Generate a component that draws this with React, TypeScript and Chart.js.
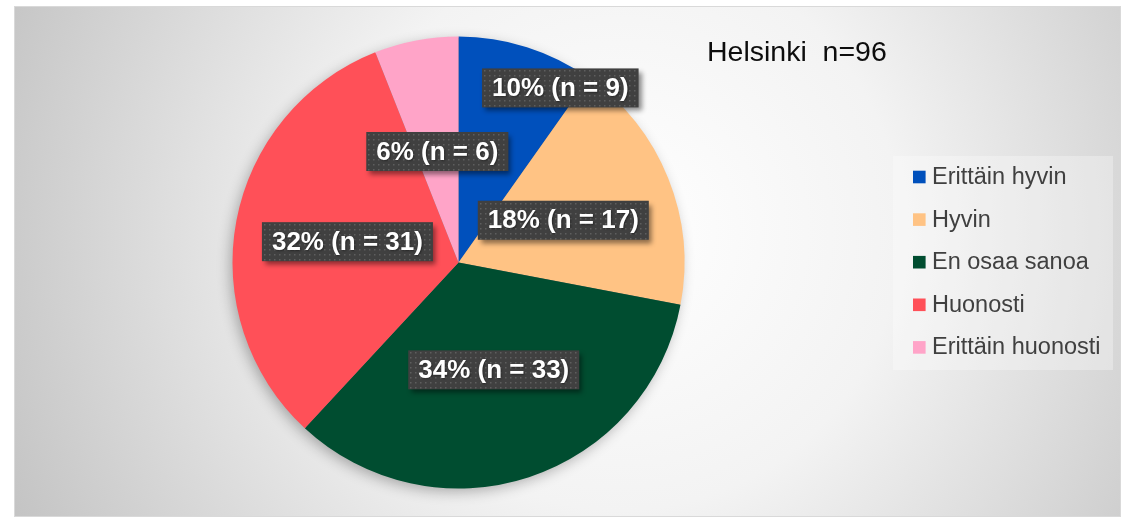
import React, { useEffect, useRef } from "react";
import { Chart, registerables } from "chart.js";

Chart.register(...registerables);

const categories = ["Erittäin hyvin", "Hyvin", "En osaa sanoa", "Huonosti", "Erittäin huonosti"];
// slice shares (%)
const sliceShares = [9.8, 18.2, 33.9, 32.1, 6.0];
const counts = [9, 17, 33, 31, 6];
const percents = [10, 18, 34, 32, 6];
const sliceColors = ["#0050BC", "#FFC384", "#004D30", "#FF5058", "#FFA4C8"];
const titleText = "Helsinki  n=96";
// extra label shift (in units of the pie radius) after placing at half radius on the slice bisector
const labelShift = [
  [0.299, -0.296],
  [0, 0],
  [0, 0],
  [0, 0],
  [0, 0],
];

const FONT = '"Liberation Sans", Arial, sans-serif';

const backgroundPlugin = {
  id: "bgPlugin",
  beforeDraw(chart: any) {
    const { ctx, width, height } = chart;
    ctx.save();
    ctx.fillStyle = "#ffffff";
    ctx.fillRect(0, 0, width, height);
    const fx = 14, fy = 6, fw = 1107, fh = 511;
    const g = ctx.createRadialGradient(620, 230, 0, 620, 230, 700);
    g.addColorStop(0, "#ffffff");
    g.addColorStop(0.4, "#f3f3f3");
    g.addColorStop(1, "#c0c0c0");
    ctx.fillStyle = g;
    ctx.fillRect(fx, fy, fw, fh);
    ctx.strokeStyle = "#d9d9d9";
    ctx.lineWidth = 1;
    ctx.strokeRect(fx + 0.5, fy + 0.5, fw - 1, fh - 1);
    // legend box
    ctx.fillStyle = "rgba(255,255,255,0.3)";
    ctx.fillRect(893, 156, 220, 214);
    ctx.restore();
  },
  beforeDatasetsDraw(chart: any) {
    const meta = chart.getDatasetMeta(0);
    const arc = meta.data[0];
    if (!arc) return;
    const { ctx } = chart;
    ctx.save();
    ctx.shadowColor = "rgba(0,0,0,0.3)";
    ctx.shadowBlur = 14;
    ctx.shadowOffsetX = -3;
    ctx.shadowOffsetY = 4;
    ctx.fillStyle = "#777";
    ctx.beginPath();
    ctx.arc(arc.x, arc.y, arc.outerRadius - 1, 0, Math.PI * 2);
    ctx.fill();
    ctx.restore();
  },
  afterDatasetsDraw(chart: any) {
    const meta = chart.getDatasetMeta(0);
    const { ctx } = chart;
    ctx.save();
    ctx.font = `bold 26px ${FONT}`;
    meta.data.forEach((arc: any, i: number) => {
      const mid = (arc.startAngle + arc.endAngle) / 2;
      const R = arc.outerRadius;
      const x = arc.x + Math.cos(mid) * R * 0.5 + labelShift[i][0] * R;
      const y = arc.y + Math.sin(mid) * R * 0.5 + labelShift[i][1] * R;
      const text = `${percents[i]}% (n = ${counts[i]})`;
      const tw = ctx.measureText(text).width;
      const w = tw + 20;
      const h = 39;
      const bx = x - w / 2;
      const by = y - h / 2;
      ctx.save();
      ctx.shadowColor = "rgba(0,0,0,0.45)";
      ctx.shadowBlur = 5;
      ctx.shadowOffsetX = 3;
      ctx.shadowOffsetY = 4;
      ctx.fillStyle = "#404040";
      ctx.fillRect(bx, by, w, h);
      ctx.restore();
      ctx.fillStyle = "rgba(255,255,255,0.16)";
      for (let px = bx + 2; px < bx + w - 1; px += 5) {
        for (let py = by + 2; py < by + h - 1; py += 5) {
          ctx.fillRect(Math.round(px), Math.round(py), 1.5, 1.5);
        }
      }
      ctx.save();
      ctx.shadowColor = "rgba(0,0,0,0.4)";
      ctx.shadowBlur = 2;
      ctx.shadowOffsetX = 1;
      ctx.shadowOffsetY = 1;
      ctx.fillStyle = "#ffffff";
      ctx.textAlign = "center";
      ctx.textBaseline = "middle";
      ctx.fillText(text, x, y + 1);
      ctx.restore();
    });
    ctx.restore();
  },
  afterDraw(chart: any) {
    const { ctx } = chart;
    const ds = chart.data.datasets[0];
    ctx.save();
    // title
    ctx.font = `28.5px ${FONT}`;
    ctx.fillStyle = "#0d0d0d";
    ctx.textAlign = "left";
    ctx.textBaseline = "alphabetic";
    ctx.fillText(titleText, 707, 61);
    // legend
    ctx.font = `23.5px ${FONT}`;
    ctx.textBaseline = "middle";
    (chart.data.labels as string[]).forEach((lab: string, i: number) => {
      const cy = 177 + i * 42.6;
      ctx.fillStyle = ds.backgroundColor[i];
      ctx.fillRect(913, cy - 6.3, 12.6, 12.6);
      ctx.fillStyle = "#404040";
      ctx.fillText(lab, 932, cy + 0.5);
    });
    ctx.restore();
  },
};

export default function App() {
  const ref = useRef<HTMLCanvasElement | null>(null);
  useEffect(() => {
    if (!ref.current) return;
    const chart = new Chart(ref.current, {
      type: "pie",
      data: {
        labels: categories,
        datasets: [
          {
            data: sliceShares,
            backgroundColor: sliceColors,
            borderWidth: 0,
          },
        ],
      },
      options: {
        responsive: false,
        animation: false,
        devicePixelRatio: 1,
        layout: {
          padding: { left: 232.5, right: 442.5, top: 36.5, bottom: 30.5 },
        },
        plugins: {
          legend: { display: false },
          tooltip: { enabled: false },
          title: { display: false },
        },
      },
      plugins: [backgroundPlugin],
    });
    return () => chart.destroy();
  }, []);
  return (
    <div style={{ position: "absolute", left: 0, top: 0, width: 1127, height: 519 }}>
      <canvas ref={ref} width={1127} height={519} style={{ display: "block" }} />
    </div>
  );
}
